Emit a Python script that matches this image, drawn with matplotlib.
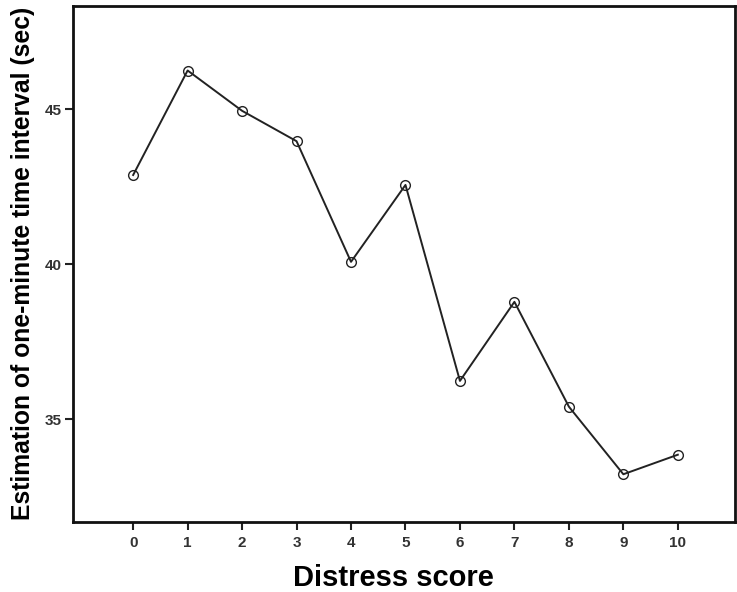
import matplotlib
matplotlib.use('Agg')
import matplotlib.pyplot as plt

scores = [0, 1, 2, 3, 4, 5, 6, 7, 8, 9, 10]
estimates = [42.88, 46.25, 44.95, 43.97, 40.08, 42.56, 36.24, 38.79, 35.41, 33.23, 33.86]
y_ticks = [35, 40, 45]

plt.rcParams['font.family'] = ['Liberation Sans', 'DejaVu Sans']

fig = plt.figure(figsize=(7.37, 5.92), dpi=100)
ax = fig.add_axes([72.7 / 737, 1 - 521.7 / 592, (735 - 72.7) / 737, (521.7 - 6) / 592])

ax.plot(scores, estimates, color='#222222', linewidth=1.4, marker='o',
        markersize=7, markerfacecolor='none', markeredgecolor='#222222', markeredgewidth=1.0)

ax.set_xlim(-1.11, 11.05)
ax.set_ylim(31.70, 48.33)
ax.set_xticks(scores)
ax.set_yticks(y_ticks)

for s in ax.spines.values():
    s.set_linewidth(2)
    s.set_color('#111111')

ax.tick_params(direction='out', length=6, width=1.5, color='#222222', labelsize=11)
ax.tick_params(axis='x', pad=4)
ax.tick_params(axis='y', pad=2)
for lbl in ax.get_xticklabels() + ax.get_yticklabels():
    lbl.set_family(['Liberation Sans Narrow', 'Liberation Sans'])
    lbl.set_fontweight('bold')
    lbl.set_color('#333333')

ax.set_xlabel('Distress score', fontsize=21, fontweight='bold', va='baseline')
ax.xaxis.set_label_coords(0.4836, -0.1247)
ax.set_ylabel('Estimation of one-minute time interval (sec)', fontsize=17.8, fontweight='bold', labelpad=7)

fig.savefig('out.png', dpi=100)
